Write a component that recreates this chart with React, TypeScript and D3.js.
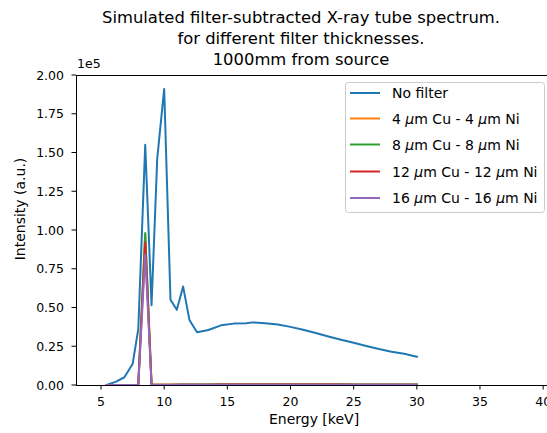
import * as d3 from "d3";

// energy grid [keV] shared by all spectra
const energy = [
  5.45, 6.2, 6.85, 7.5, 7.95, 8.5, 9.0, 9.45, 10.0, 10.5, 11.0, 11.5, 12.0,
  12.6, 13.5, 14.5, 15.5, 16.5, 17.0, 18.0, 19.0, 20.0, 21.0, 22.0, 23.0,
  24.0, 25.0, 26.0, 27.0, 28.0, 29.0, 30.0,
];

// intensities (a.u.)
const noFilter = [
  0, 2200, 5000, 13500, 36000, 155000, 51500, 146000, 191000, 55000, 48500,
  63500, 42000, 34000, 35500, 38500, 39600, 39800, 40400, 39900, 39000, 37500,
  35600, 33500, 31300, 29200, 27200, 25200, 23200, 21400, 20100, 18200,
];
const cu4 = [
  0, 0, 0, 0, 0, 97000, 300, 200, 200, 200, 250, 300, 350, 400, 400, 450, 450,
  450, 450, 450, 450, 450, 450, 450, 450, 450, 400, 400, 400, 400, 400, 400,
];
const cu8 = [
  0, 0, 0, 0, 0, 98000, 200, 150, 150, 150, 200, 250, 250, 300, 300, 350, 350,
  350, 350, 350, 350, 350, 350, 350, 350, 300, 300, 300, 300, 300, 300, 300,
];
const cu12 = [
  0, 0, 0, 0, 0, 92000, 150, 100, 100, 100, 150, 150, 200, 200, 200, 250, 250,
  250, 250, 250, 250, 250, 250, 250, 250, 250, 200, 200, 200, 200, 200, 200,
];
const cu16 = [
  0, 0, 0, 0, 0, 84000, 100, 50, 50, 50, 100, 100, 100, 150, 150, 150, 150,
  150, 150, 150, 150, 150, 150, 150, 150, 150, 150, 150, 150, 150, 150, 150,
];

const seriesLabels = [
  "No filter",
  "4 μm Cu - 4 μm Ni",
  "8 μm Cu - 8 μm Ni",
  "12 μm Cu - 12 μm Ni",
  "16 μm Cu - 16 μm Ni",
];
const seriesValues = [noFilter, cu4, cu8, cu12, cu16];
const colors = ["#1f77b4", "#ff7f0e", "#2ca02c", "#d62728", "#9467bd"];

const xTicks = [5, 10, 15, 20, 25, 30, 35, 40];
const yTicks = [0, 25000, 50000, 75000, 100000, 125000, 150000, 175000, 200000];
const titleLines = [
  "Simulated filter-subtracted X-ray tube spectrum.",
  "for different filter thicknesses.",
  "1000mm from source",
];

const W = 547;
const H = 433;
const font = "'DejaVu Sans', sans-serif";

// legend label with italic mu like matplotlib mathtext
function mathLabel(label: string) {
  const parts = label.split("μ");
  return parts.map((p, i) => (
    <>
      {i > 0 && <tspan fontStyle="italic">μ</tspan>}
      <tspan>{p}</tspan>
    </>
  ));
}

export default function App() {
  const x = d3.scaleLinear().domain([3.02, 40.7]).range([76, 552]);
  const y = d3.scaleLinear().domain([0, 200000]).range([385, 75]);
  const fmt = d3.format(".2f");

  const line = d3
    .line<[number, number]>()
    .x((d) => x(d[0]))
    .y((d) => y(d[1]));

  const legendRows = [93, 118.5, 144.5, 171.5, 198];

  return (
    <svg
      width={W}
      height={H}
      style={{ position: "absolute", left: 0, top: 0, background: "#fff" }}
      fontFamily={font}
    >
      <rect width={W} height={H} fill="#fff" />

      {/* title */}
      {titleLines.map((t, i) => (
        <text key={t} x={301} y={23 + i * 21} fontSize={16.4} textAnchor="middle" fill="#000">
          {t}
        </text>
      ))}

      {/* series */}
      <g fill="none" strokeWidth={2} strokeLinejoin="round" strokeLinecap="square">
        {seriesValues.map((vals, i) => (
          <path
            key={i}
            d={line(energy.map((e, j) => [e, vals[j]]) as [number, number][]) || ""}
            stroke={colors[i]}
          />
        ))}
      </g>

      {/* spines */}
      <g stroke="#000" strokeWidth={1} shapeRendering="crispEdges">
        <line x1={x(3.02)} x2={x(3.02)} y1={y(0)} y2={y(200000)} />
        <line x1={x(3.02)} x2={W} y1={y(0)} y2={y(0)} />
        <line x1={x(3.02)} x2={W} y1={y(200000)} y2={y(200000)} />
      </g>

      {/* x axis */}
      {xTicks.map((t) => (
        <g key={t}>
          <line x1={x(t)} x2={x(t)} y1={385} y2={389.5} stroke="#000" />
          <text x={x(t)} y={406} fontSize={12.5} textAnchor="middle" fill="#000">
            {t}
          </text>
        </g>
      ))}
      <text x={314} y={424} fontSize={14} textAnchor="middle" fill="#000">
        Energy [keV]
      </text>

      {/* y axis */}
      {yTicks.map((t) => (
        <g key={t}>
          <line x1={71.5} x2={76} y1={y(t)} y2={y(t)} stroke="#000" />
          <text x={64} y={y(t)} dy="0.36em" fontSize={12.5} textAnchor="end" fill="#000">
            {fmt(t / 1e5)}
          </text>
        </g>
      ))}
      <text x={77} y={68} fontSize={12.5} fill="#000">
        1e5
      </text>
      <text
        transform={`translate(25,209) rotate(-90)`}
        fontSize={14}
        textAnchor="middle"
        fill="#000"
      >
        Intensity (a.u.)
      </text>

      {/* legend */}
      <rect
        x={345.5}
        y={82.5}
        width={199}
        height={130}
        rx={3}
        fill="#fff"
        fillOpacity={0.8}
        stroke="#cccccc"
      />
      {seriesLabels.map((lab, i) => (
        <g key={lab}>
          <line
            x1={350}
            x2={380}
            y1={legendRows[i]}
            y2={legendRows[i]}
            stroke={colors[i]}
            strokeWidth={2}
          />
          <text x={392} y={legendRows[i]} dy="0.36em" fontSize={14} fill="#000">
            {mathLabel(lab)}
          </text>
        </g>
      ))}
    </svg>
  );
}
